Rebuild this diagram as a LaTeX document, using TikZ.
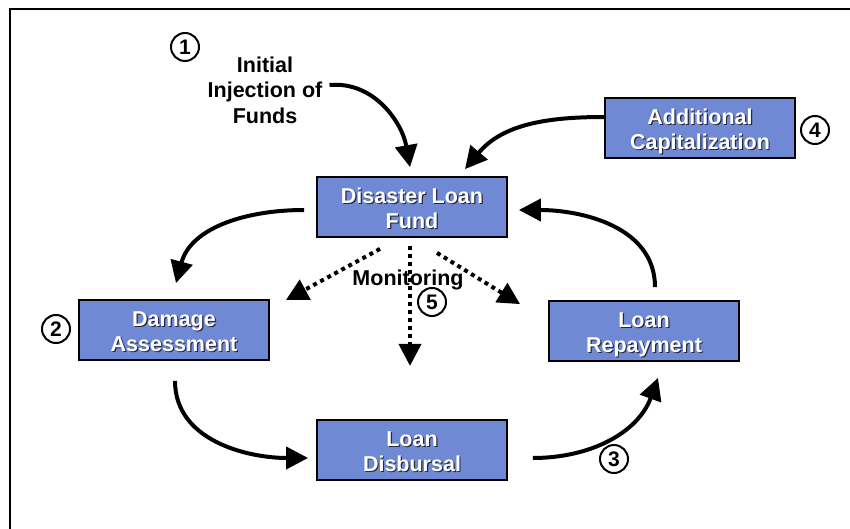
\documentclass[tikz,border=0pt]{standalone}
\usepackage{fontspec}
\setmainfont{Liberation Sans}
\usetikzlibrary{arrows.meta,calc}
\definecolor{boxblue}{RGB}{112,137,212}
\definecolor{txtshadow}{RGB}{40,40,60}
\newcommand\shadowtext[1]{\raisebox{-4pt}[\height][\depth]{\rlap{\kern1.2pt\raisebox{-1.2pt}[0pt][0pt]{\color{txtshadow}\begin{tabular}{@{}c@{}}#1\end{tabular}}}{\color{white}\begin{tabular}{@{}c@{}}#1\end{tabular}}}}
\tikzset{
  box/.style={draw=black, line width=1.8pt, fill=boxblue, minimum width=190pt, minimum height=60pt, inner sep=0pt, font=\fontsize{21.5}{25}\selectfont\bfseries},
  num/.style={circle, draw=black, line width=2pt, fill=white, minimum size=28pt, inner sep=0pt, font=\fontsize{21}{21}\selectfont\bfseries},
  lbl/.style={font=\fontsize{21.5}{25.5}\selectfont\bfseries, align=center, inner sep=0pt},
  flow/.style={line width=4pt, -{Triangle[length=22pt,width=22pt]}},
  mon/.style={line width=4pt, dash pattern=on 4pt off 4pt, -{Triangle[length=22pt,width=22pt]}},
  frame/.style={line width=2.6pt}
}
\begin{document}
\begin{tikzpicture}[x=1pt,y=1pt]
\useasboundingbox (0,0) rectangle (850,-529);
\draw[frame] (10,-529) -- (10,-9) -- (851,-9);

\node[box] (fund)   at (412,-207) {\shadowtext{Disaster Loan\\Fund}};
\node[box] (addcap) at (700,-128) {\shadowtext{Additional\\Capitalization}};
\node[box] (damage) at (174,-330) {\shadowtext{Damage\\Assessment}};
\node[box] (disb)   at (412,-450) {\shadowtext{Loan\\Disbursal}};
\node[box] (repay)  at (644,-331) {\shadowtext{Loan\\Repayment}};

\node[lbl] (init) at (265,-90) {Initial\\Injection of\\Funds};
\node[lbl] (monitor) at (408,-280) {Monitoring};

\node[num] (c1) at (185,-47) {1};
\node[num] (c2) at (56,-329) {2};
\node[num] (c3) at (614,-459) {3};
\node[num] (c4) at (815,-130) {4};
\node[num] (c5) at (432,-302) {5};

\draw[flow] ($(init.east)+(7,5)$) to[out=5,in=100] ($(fund.north)+(-2,9)$);
\draw[flow] ($(addcap.west)+(0,11)$) to[out=180,in=50] ($(fund.north)+(53,7)$);
\draw[flow] ($(fund.west)+(-12,-3)$) to[out=180,in=75] ($(damage.north)+(2,16)$);
\draw[flow] ($(damage.south)+(1,-20)$) to[out=-90,in=180] ($(disb.west)+(-8,-8)$);
\draw[flow] ($(disb.east)+(25,-8)$) to[out=0,in=-110] ($(repay.south)+(14,-16)$);
\draw[flow] ($(repay.north)+(11,13)$) to[out=90,in=0] ($(fund.east)+(11,-3)$);

\draw[mon] ($(fund.south)+(-32,-11)$) -- ($(damage.north east)+(16,-1)$);
\draw[mon] ($(fund.south)+(-2,-8)$) -- ($(fund.south)+(-2,-128)$);
\draw[mon] ($(fund.south)+(25,-15)$) -- ($(repay.north west)+(-28,-4)$);
\end{tikzpicture}
\end{document}
